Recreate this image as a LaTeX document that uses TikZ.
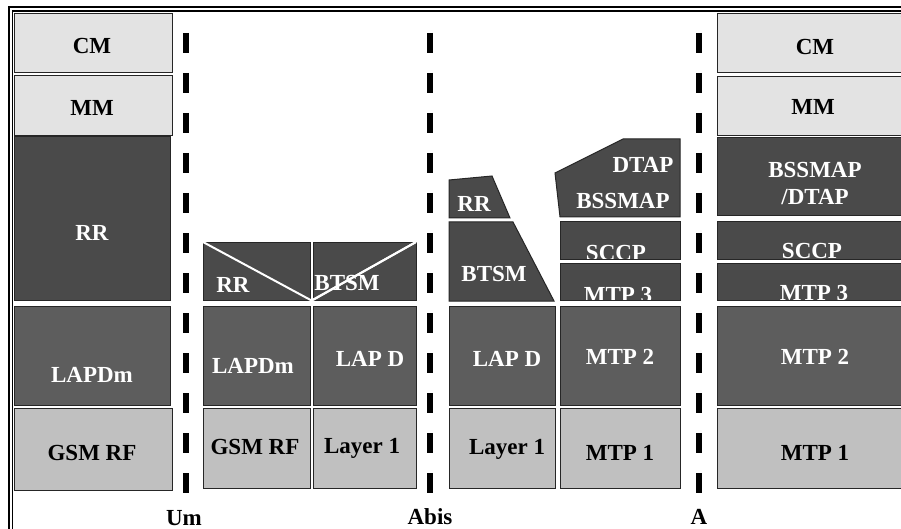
\documentclass[tikz,border=0pt]{standalone}
\usepackage{fontspec}
\setmainfont{Liberation Serif}
\definecolor{lightc}{HTML}{E3E3E3}
\definecolor{darkc}{HTML}{4A4A4A}
\definecolor{midc}{HTML}{5D5D5D}
\definecolor{grayc}{HTML}{C0C0C0}
\newcommand{\lblfont}{\fontsize{23}{25}\selectfont\bfseries}
\begin{document}
\begin{tikzpicture}[x=1pt,y=-1pt,
  boxline/.style={draw=black!85,line width=1pt},
  ltbox/.style={boxline,fill=lightc},
  dkbox/.style={boxline,fill=darkc},
  mdbox/.style={boxline,fill=midc},
  gybox/.style={boxline,fill=grayc},
  wlbl/.style={text=white,font=\lblfont,inner sep=0pt},
  blbl/.style={text=black,font=\lblfont,inner sep=0pt},
  iface/.style={line width=6pt,dash pattern=on 20pt off 20pt},
  sep/.style={draw=white,line width=2pt}]
\useasboundingbox (0,0) rectangle (901,529);
\fill[white] (0,0) rectangle (901,529);
% frame
\draw[line width=1.6pt] (9,529) -- (9,7) -- (901,7);
\draw[line width=1.6pt] (12.5,529) -- (12.5,10.8) -- (901,10.8);
% interfaces
\draw[iface] (186,33) -- (186,493);
\draw[iface] (430,33) -- (430,493);
\draw[iface] (699,33) -- (699,493);
% column 1 (MS)
\draw[ltbox] (14,14) rectangle (172,73);
\draw[ltbox] (14,76) rectangle (172,136);
\draw[dkbox] (14,137) rectangle (170,300);
\draw[mdbox] (14,306) rectangle (170,405);
\draw[gybox] (14,408) rectangle (172,490);
\node[blbl] (ms-cm) at (92,46) {CM};
\node[blbl] (ms-mm) at (92,108) {MM};
\node[wlbl] (ms-rr) at (92,233) {RR};
\node[wlbl] (ms-lapdm) at (92,375) {LAPDm};
\node[blbl] (ms-rf) at (92,453) {GSM RF};
% column 2/3 (BTS)
\draw[dkbox] (203,242) rectangle (310,300);
\draw[dkbox] (313,242) rectangle (416,300);
\draw[sep] (203,242) -- (311.5,300.5) -- (416,242);
\draw[mdbox] (203,306) rectangle (310,405);
\draw[mdbox] (313,306) rectangle (416,405);
\draw[gybox] (203,408) rectangle (310,488);
\draw[gybox] (313,408) rectangle (416,488);
\node[wlbl] (bts-rr) at (233,285) {RR};
\node[wlbl] (bts-btsm) at (347,283) {BTSM};
\draw[sep] (313,300) -- (416,242);
\node[wlbl] (bts-lapdm) at (253,366) {LAPDm};
\node[wlbl] (bts-lapd) at (370,359) {LAP D};
\node[blbl] (bts-rf) at (255,447) {GSM RF};
\node[blbl] (bts-l1) at (362,448) {Layer 1};
% column 4 (BSC, Abis side)
\draw[dkbox] (449,180) -- (492,176) -- (510,218) -- (449,218) -- cycle;
\draw[dkbox] (449,222) -- (513,222) -- (554,301) -- (449,301) -- cycle;
\draw[mdbox] (449,306) rectangle (555,405);
\draw[gybox] (449,408) rectangle (555,488);
\node[wlbl] (bsc-rr) at (474,204) {RR};
\node[wlbl] (bsc-btsm) at (494,274) {BTSM};
\node[wlbl] (bsc-lapd) at (507,359) {LAP D};
\node[blbl] (bsc-l1) at (507,449) {Layer 1};
% column 5 (BSC, A side)
\draw[dkbox] (555,173) -- (623,139) -- (680,139) -- (680,217) -- (560,217) -- cycle;
\draw[dkbox] (560,222) rectangle (680,259);
\draw[dkbox] (560,263) rectangle (680,300);
\draw[mdbox] (560,306) rectangle (680,405);
\draw[gybox] (560,408) rectangle (680,488);
\node[wlbl] (bsc-dtap) at (643,165) {DTAP};
\node[wlbl] (bsc-bssmap) at (623,201) {BSSMAP};
\begin{scope}
\clip (560,222) rectangle (680,258);
\node[wlbl] (bsc-sccp) at (616,253) {SCCP};
\end{scope}
\begin{scope}
\clip (560,263) rectangle (680,299);
\node[wlbl] (bsc-mtp3) at (618,295) {MTP 3};
\end{scope}
\node[wlbl] (bsc-mtp2) at (620,357) {MTP 2};
\node[blbl] (bsc-mtp1) at (620,453) {MTP 1};
% column 6 (MSC)
\draw[ltbox] (717,14) rectangle (905,73);
\draw[ltbox] (717,77) rectangle (905,136);
\draw[dkbox] (717,138) rectangle (905,216);
\draw[dkbox] (717,222) rectangle (905,259);
\draw[dkbox] (717,263) rectangle (905,300);
\draw[mdbox] (717,306) rectangle (905,405);
\draw[gybox] (717,408) rectangle (905,488);
\node[blbl] (msc-cm) at (815,47) {CM};
\node[blbl] (msc-mm) at (813,107) {MM};
\node[wlbl] (msc-bssmap) at (815,170) {BSSMAP};
\node[wlbl] (msc-dtap) at (815,197) {/DTAP};
\begin{scope}
\clip (717,222) rectangle (901,258);
\node[wlbl] (msc-sccp) at (812,251) {SCCP};
\end{scope}
\begin{scope}
\clip (717,263) rectangle (901,299);
\node[wlbl] (msc-mtp3) at (814,293) {MTP 3};
\end{scope}
\node[wlbl] (msc-mtp2) at (815,357) {MTP 2};
\node[blbl] (msc-mtp1) at (815,453) {MTP 1};
% interface labels
\node[blbl] (um) at (184,518) {Um};
\node[blbl] (abis) at (430,517) {Abis};
\node[blbl] (a) at (699,517) {A};
\end{tikzpicture}
\end{document}
